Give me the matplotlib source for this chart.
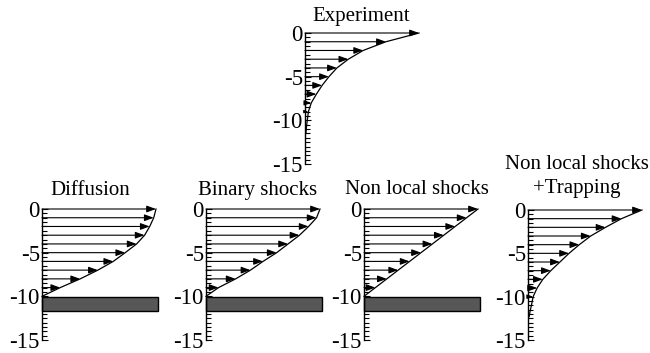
import matplotlib
matplotlib.use("Agg")
import matplotlib.pyplot as plt
from matplotlib.patches import Rectangle

plt.rcParams['font.family'] = ['Liberation Serif', 'DejaVu Serif']
plt.rcParams['axes.unicode_minus'] = False

# ---- data ----
depth = [0, -1, -2, -3, -4, -5, -6, -7, -8, -9, -10]
tick_values = [0, -5, -10, -15]
tick_labels = ['0', '-5', '-10', '-15']

exp_u = [1.0, 0.71, 0.51, 0.38, 0.28, 0.21, 0.15, 0.10, 0.055, 0.03, 0.02]
exp_tail_depth = [-10.5, -11.0, -11.5]
exp_tail_u = [0.015, 0.011, 0.008]

diff_u = [1.0, 0.98, 0.945, 0.90, 0.83, 0.73, 0.625, 0.49, 0.335, 0.16, 0.0]
bin_u = [1.0, 0.97, 0.90, 0.82, 0.72, 0.62, 0.50, 0.39, 0.26, 0.11, 0.0]
nl_u = [1.0, 0.9, 0.8, 0.7, 0.6, 0.5, 0.4, 0.3, 0.2, 0.1, 0.0]

trap_u = [1.0, 0.82, 0.68, 0.55, 0.45, 0.36, 0.28, 0.20, 0.13, 0.08, 0.045]
trap_tail_depth = [-11.0, -11.7, -12.3]
trap_tail_u = [0.03, 0.018, 0.01]

wall_top, wall_bottom, wall_width = -10.1, -11.7, 1.02

titles = {
    'exp': 'Experiment',
    'diff': 'Diffusion',
    'bin': 'Binary shocks',
    'nl': 'Non local shocks',
    'trap1': 'Non local shocks',
    'trap2': '+Trapping',
}

W, H = 650, 353
fig = plt.figure(figsize=(6.5, 3.53), dpi=100)
FS_TITLE = 15
FS_TICK = 16.5
UNIT_PX = 114


def panel(left_px, top_px, bottom_px, u, tail_d=None, tail_u=None, wall=False, n_arrows=11):
    ax = fig.add_axes([left_px / W, (H - bottom_px) / H, UNIT_PX / W, (bottom_px - top_px) / H])
    ax.set_xlim(0, 1)
    ax.set_ylim(-15, 0)
    for s in ['top', 'right', 'bottom']:
        ax.spines[s].set_visible(False)
    ax.spines['left'].set_linewidth(1.0)
    ax.spines['left'].set_zorder(5)
    ax.set_xticks([])
    ax.set_yticks(tick_values)
    ax.set_yticklabels(tick_labels, fontsize=FS_TICK)
    ax.set_yticks([v * 0.5 for v in range(0, -31, -1)], minor=True)
    ax.tick_params(axis='y', which='both', direction='in', width=0.8, pad=1.5)
    ax.tick_params(axis='y', which='major', length=4)
    ax.tick_params(axis='y', which='minor', length=3.5)
    ax.patch.set_visible(False)

    cd = list(depth)
    cu = list(u)
    if tail_d is not None:
        cd += tail_d
        cu += tail_u
    ax.plot(cu, cd, color='black', lw=0.9, clip_on=False, zorder=3)

    for z, v in list(zip(depth, u))[:n_arrows]:
        if v <= 0:
            continue
        length_px = v * UNIT_PX
        ms = max(3.0, min(10.0, length_px * 0.9 / 0.764))
        ax.annotate('', xy=(v, z), xytext=(0, z),
                    arrowprops=dict(arrowstyle='-|>,head_length=0.55,head_width=0.2',
                                    lw=0.8, color='black', shrinkA=0, shrinkB=0,
                                    mutation_scale=ms),
                    annotation_clip=False, zorder=4)
    if wall:
        ax.add_patch(Rectangle((0, wall_bottom), wall_width, wall_top - wall_bottom,
                               facecolor='#575757', edgecolor='black', lw=1.0,
                               clip_on=False, zorder=2))
    return ax


panel(305, 33, 164, exp_u, exp_tail_depth, exp_tail_u, n_arrows=10)
panel(42, 209, 340, diff_u, wall=True)
panel(206, 209, 340, bin_u, wall=True)
panel(364, 209, 340, nl_u, wall=True)
panel(528, 210, 340, trap_u, trap_tail_depth, trap_tail_u)


def title(text, xc, base_y):
    fig.text(xc / W, (H - base_y) / H, text, ha='center', va='baseline', fontsize=FS_TITLE)


title(titles['exp'], 361, 21)
title(titles['diff'], 90, 195)
title(titles['bin'], 258, 195)
title(titles['nl'], 417, 194)
title(titles['trap1'], 577, 169)
title(titles['trap2'], 577, 193)

fig.savefig('out.png', dpi=100)
